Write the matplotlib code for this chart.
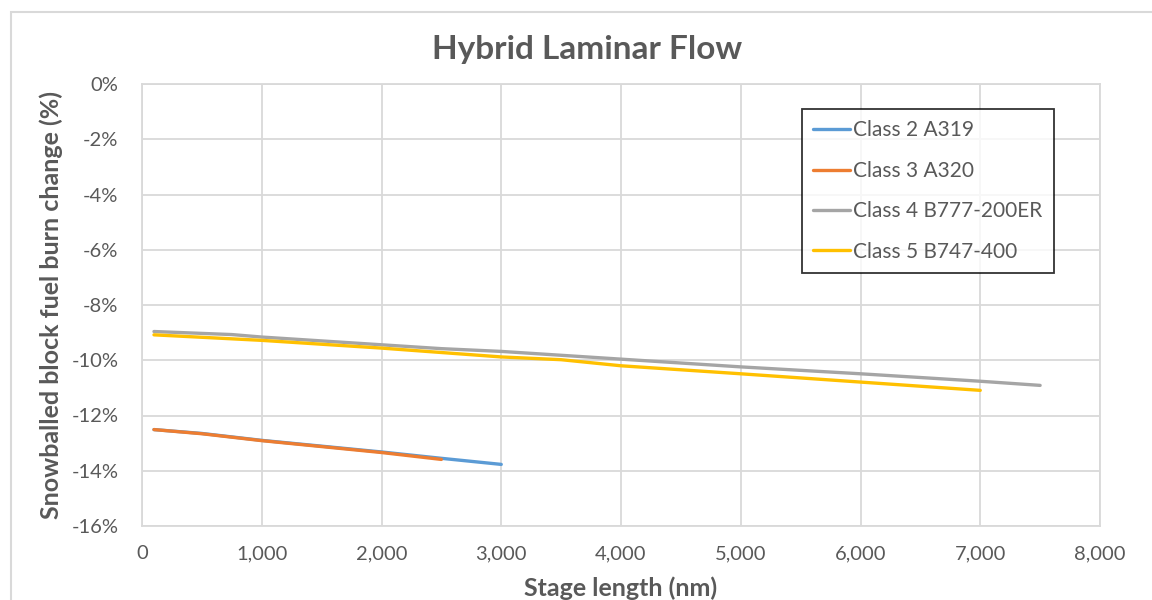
import matplotlib
matplotlib.use("Agg")
import matplotlib.pyplot as plt
from matplotlib.patches import Rectangle
from matplotlib.ticker import FuncFormatter, MultipleLocator

plt.rcParams['font.family'] = ['Lato', 'DejaVu Sans']

# stage length (nm) and snowballed block fuel burn change (%)
a319_x = [100, 500, 1000, 2000, 2500, 3000]
a319_y = [-12.51, -12.65, -12.90, -13.32, -13.55, -13.77]

a320_x = [100, 500, 1000, 2000, 2500]
a320_y = [-12.51, -12.66, -12.91, -13.34, -13.59]

b777_x = [100, 750, 1000, 2000, 2500, 3000, 4000, 5000, 6000, 7000, 7500]
b777_y = [-8.96, -9.07, -9.16, -9.44, -9.58, -9.68, -9.96, -10.24, -10.49, -10.76, -10.91]

b747_x = [100, 1000, 2000, 3000, 3500, 4000, 5000, 6000, 7000]
b747_y = [-9.08, -9.28, -9.56, -9.88, -9.98, -10.20, -10.49, -10.79, -11.09]

labels = ['Class 2 A319', 'Class 3 A320', 'Class 4 B777-200ER', 'Class 5 B747-400']
colors = ['#5b9bd5', '#ed7d31', '#a5a5a5', '#ffc000']

txt = '#595959'
grid = '#d9d9d9'

fig = plt.figure(figsize=(11.52, 6), dpi=100)
# outer chart border
fig.patches.append(Rectangle((11/1152, -0.1), 1.2, 1 - 12/600 + 0.1, transform=fig.transFigure,
                             fill=False, edgecolor=grid, linewidth=1.5))
ax = fig.add_axes([142/1152, 1 - 526/600, (1100 - 142)/1152, (526 - 84)/600])

series = [(a319_x, a319_y), (a320_x, a320_y), (b777_x, b777_y), (b747_x, b747_y)]
for (xs, ys), lab, c in zip(series, labels, colors):
    ax.plot(xs, ys, color=c, linewidth=2.4, label=lab, solid_capstyle='round')

ax.set_xlim(0, 8000)
ax.set_ylim(-16, 0)
ax.xaxis.set_major_locator(MultipleLocator(1000))
ax.yaxis.set_major_locator(MultipleLocator(2))
ax.xaxis.set_major_formatter(FuncFormatter(lambda v, p: f'{int(v):,}'))
ax.yaxis.set_major_formatter(FuncFormatter(lambda v, p: f'{int(round(v))}%'))
ax.grid(True, color=grid, linewidth=1.3)
ax.set_axisbelow(True)
for s in ax.spines.values():
    s.set_color(grid)
    s.set_linewidth(1.3)
ax.tick_params(axis='both', length=0, labelsize=14.5, colors=txt)
ax.tick_params(axis='x', pad=14)
ax.tick_params(axis='y', pad=17)

fig.text(587/1152, 1 - 50/600, 'Hybrid Laminar Flow', fontsize=24, fontweight='bold',
         color=txt, ha='center', va='center')
ax.set_xlabel('Stage length (nm)', fontsize=18, fontweight='bold', color=txt, labelpad=10)
ax.set_ylabel('Snowballed block fuel burn change (%)', fontsize=18, fontweight='bold',
              color=txt, labelpad=6)

leg = ax.legend(loc='upper left', bbox_to_anchor=((802 - 142)/958, 1 - (109 - 84)/442),
                fontsize=15, frameon=True, fancybox=False, handlelength=1.75,
                handletextpad=0.15, labelspacing=0.98, borderpad=0.55, borderaxespad=0)
leg.get_frame().set_edgecolor('black')
leg.get_frame().set_linewidth(1.3)
for t in leg.get_texts():
    t.set_color(txt)

fig.savefig('out.png', dpi=100)
